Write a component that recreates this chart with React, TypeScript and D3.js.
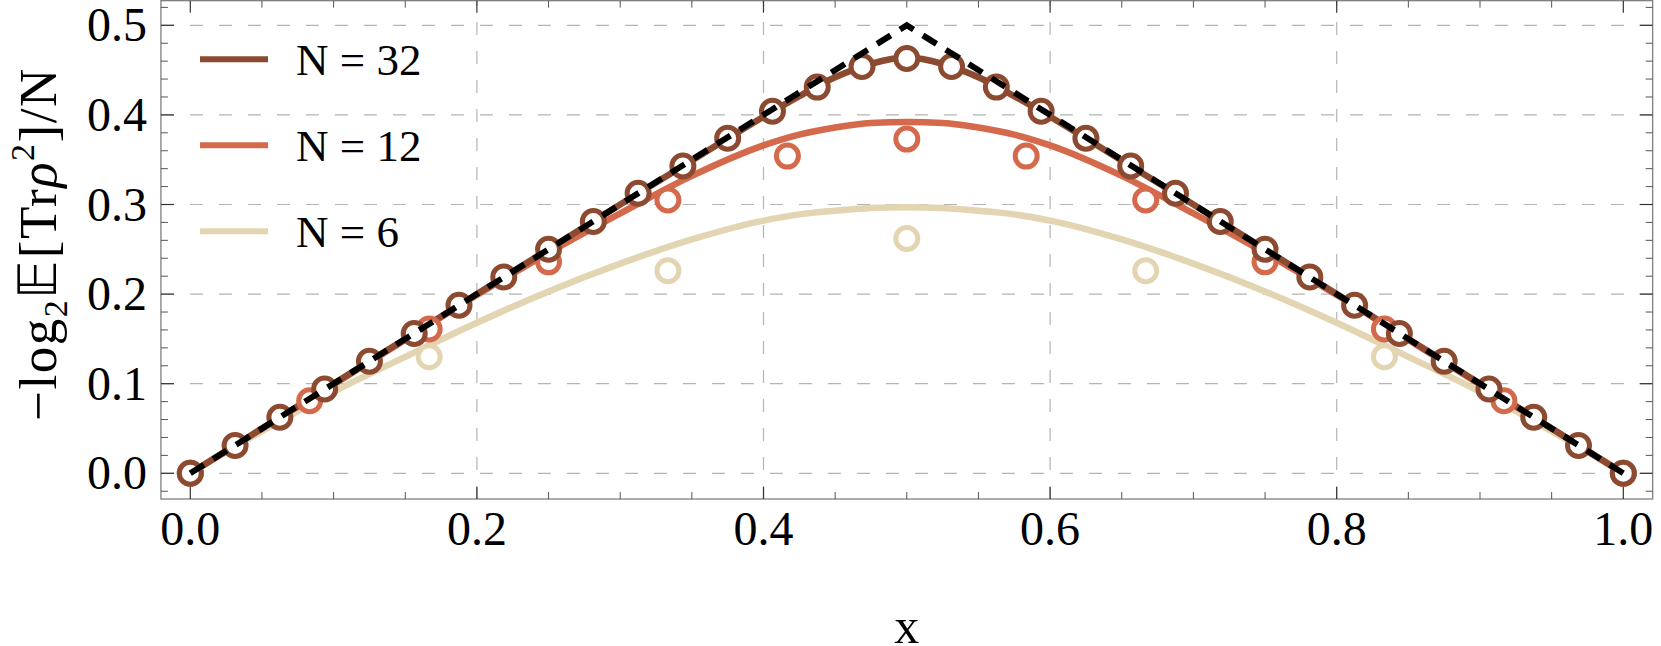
import React from "react";
import * as d3 from "d3";

const W = 1661;
const H = 646;

// ---- data ----
const N32_X = [0, 0.03125, 0.0625, 0.09375, 0.125, 0.15625, 0.1875, 0.21875, 0.25, 0.28125, 0.3125, 0.34375, 0.375, 0.40625, 0.4375, 0.46875, 0.5, 0.53125, 0.5625, 0.59375, 0.625, 0.65625, 0.6875, 0.71875, 0.75, 0.78125, 0.8125, 0.84375, 0.875, 0.90625, 0.9375, 0.96875, 1];
const N32_Y = [0, 0.031, 0.0625, 0.094, 0.125, 0.156, 0.1875, 0.219, 0.25, 0.281, 0.3125, 0.343, 0.374, 0.404, 0.431, 0.454, 0.463, 0.454, 0.431, 0.404, 0.374, 0.343, 0.3125, 0.281, 0.25, 0.219, 0.1875, 0.156, 0.125, 0.094, 0.0625, 0.031, 0];
const N12_X = [0, 0.0833, 0.1667, 0.25, 0.3333, 0.4167, 0.5, 0.5833, 0.6667, 0.75, 0.8333, 0.9167, 1];
const N12_Y = [0, 0.081, 0.161, 0.236, 0.305, 0.354, 0.373, 0.354, 0.305, 0.236, 0.161, 0.081, 0];
const N6_X = [0, 0.1667, 0.3333, 0.5, 0.6667, 0.8333, 1];
const N6_Y = [0, 0.130, 0.226, 0.262, 0.226, 0.130, 0];

const CURVE_X = [0, 0.05, 0.1, 0.15, 0.2, 0.25, 0.3, 0.35, 0.4, 0.425, 0.45, 0.475, 0.5, 0.525, 0.55, 0.575, 0.6, 0.65, 0.7, 0.75, 0.8, 0.85, 0.9, 0.95, 1];
const CURVE32_Y = [0, 0.05, 0.1, 0.15, 0.2, 0.25, 0.3, 0.349, 0.398, 0.421, 0.442, 0.457, 0.464, 0.457, 0.442, 0.421, 0.398, 0.349, 0.3, 0.25, 0.2, 0.15, 0.1, 0.05, 0];
const CURVE12_Y = [0, 0.05, 0.099, 0.149, 0.199, 0.246, 0.29, 0.332, 0.366, 0.378, 0.386, 0.391, 0.392, 0.391, 0.386, 0.378, 0.366, 0.332, 0.29, 0.246, 0.199, 0.149, 0.099, 0.05, 0];
const CURVE6_Y = [0, 0.047, 0.091, 0.13, 0.168, 0.203, 0.234, 0.261, 0.282, 0.289, 0.293, 0.296, 0.297, 0.296, 0.293, 0.289, 0.282, 0.261, 0.234, 0.203, 0.168, 0.13, 0.091, 0.047, 0];

const LIMIT_X = [0, 0.5, 1];
const LIMIT_Y = [0, 0.5, 0];

const X_MAJOR = [0, 0.2, 0.4, 0.6, 0.8, 1.0];
const X_MAJOR_LABELS = ["0.0", "0.2", "0.4", "0.6", "0.8", "1.0"];
const X_MINOR = [0.05, 0.1, 0.15, 0.25, 0.3, 0.35, 0.45, 0.5, 0.55, 0.65, 0.7, 0.75, 0.85, 0.9, 0.95];
const X_GRID = [0.2, 0.4, 0.6, 0.8];
const Y_MAJOR = [0, 0.1, 0.2, 0.3, 0.4, 0.5];
const Y_MAJOR_LABELS = ["0.0", "0.1", "0.2", "0.3", "0.4", "0.5"];
const Y_MINOR = [-0.02, 0.02, 0.04, 0.06, 0.08, 0.12, 0.14, 0.16, 0.18, 0.22, 0.24, 0.26, 0.28, 0.32, 0.34, 0.36, 0.38, 0.42, 0.44, 0.46, 0.48, 0.52];

const SERIES = [
  { label: "N = 32", color: "#8c4a30" },
  { label: "N = 12", color: "#d4694b" },
  { label: "N = 6", color: "#e3d4b2" },
];

const FONT = "'Liberation Serif', 'Times New Roman', serif";

export default function App() {
  const x = d3.scaleLinear().domain([0, 1]).range([190.3, 1623.3]);
  const y = d3.scaleLinear().domain([0, 0.5]).range([473.3, 25.3]);
  const fx0 = x(-0.0205), fx1 = x(1.0205);
  const fy0 = y(-0.0287), fy1 = y(0.5275);

  const line = d3.line<[number, number]>().x(d => x(d[0])).y(d => y(d[1])).curve(d3.curveMonotoneX);
  const straight = d3.line<[number, number]>().x(d => x(d[0])).y(d => y(d[1]));
  const zip = (a: number[], b: number[]) => a.map((v, i) => [v, b[i]] as [number, number]);

  const curves = [CURVE32_Y, CURVE12_Y, CURVE6_Y];
  const points = [
    { xs: N6_X, ys: N6_Y, color: SERIES[2].color },
    { xs: N12_X, ys: N12_Y, color: SERIES[1].color },
    { xs: N32_X, ys: N32_Y, color: SERIES[0].color },
  ];

  const frameColor = "#808080";
  const gridColor = "#b4b4b4";

  return (
    <svg width={W} height={H} style={{ position: "absolute", left: 0, top: 0, background: "#fff" }} fontFamily={FONT}>
      <rect x={0} y={0} width={W} height={H} fill="#fff" />
      {/* grid */}
      {X_GRID.map(v => (
        <line key={"gx" + v} x1={x(v)} x2={x(v)} y1={fy0} y2={fy1} stroke={gridColor} strokeWidth={1.2} strokeDasharray="13,16" />
      ))}
      {Y_MAJOR.map(v => (
        <line key={"gy" + v} x1={fx0} x2={fx1} y1={y(v)} y2={y(v)} stroke={gridColor} strokeWidth={1.2} strokeDasharray="13,16" />
      ))}
      {/* curves */}
      {[2, 1, 0].map(i => (
        <path key={"c" + i} d={line(zip(CURVE_X, curves[i])) || ""} fill="none" stroke={SERIES[i].color} strokeWidth={6.5} />
      ))}
      {/* points */}
      {points.map((p, j) =>
        p.xs.map((xv, k) => (
          <circle key={"p" + j + "_" + k} cx={x(xv)} cy={y(p.ys[k])} r={11} fill="#fff" stroke={p.color} strokeWidth={5} />
        ))
      )}
      {/* limit line */}
      <path d={straight(zip(LIMIT_X, LIMIT_Y)) || ""} fill="none" stroke="#000" strokeWidth={6} strokeDasharray="16,11" />
      {/* frame */}
      <rect x={fx0} y={fy1} width={fx1 - fx0} height={fy0 - fy1} fill="none" stroke={frameColor} strokeWidth={1.3} />
      {/* ticks */}
      {X_MAJOR.map(v => (
        <g key={"xt" + v}>
          <line x1={x(v)} x2={x(v)} y1={fy0} y2={fy0 - 12} stroke="#333" strokeWidth={1.2} />
          <line x1={x(v)} x2={x(v)} y1={fy1} y2={fy1 + 12} stroke="#333" strokeWidth={1.2} />
        </g>
      ))}
      {X_MINOR.map(v => (
        <g key={"xm" + v}>
          <line x1={x(v)} x2={x(v)} y1={fy0} y2={fy0 - 7} stroke="#555" strokeWidth={1} />
          <line x1={x(v)} x2={x(v)} y1={fy1} y2={fy1 + 7} stroke="#555" strokeWidth={1} />
        </g>
      ))}
      {Y_MAJOR.map(v => (
        <g key={"yt" + v}>
          <line x1={fx0} x2={fx0 + 13} y1={y(v)} y2={y(v)} stroke="#333" strokeWidth={1.2} />
          <line x1={fx1} x2={fx1 - 13} y1={y(v)} y2={y(v)} stroke="#333" strokeWidth={1.2} />
        </g>
      ))}
      {Y_MINOR.map(v => (
        <g key={"ym" + v}>
          <line x1={fx0} x2={fx0 + 7} y1={y(v)} y2={y(v)} stroke="#555" strokeWidth={1} />
          <line x1={fx1} x2={fx1 - 7} y1={y(v)} y2={y(v)} stroke="#555" strokeWidth={1} />
        </g>
      ))}
      {/* tick labels */}
      {X_MAJOR.map((v, i) => (
        <text key={"xl" + v} x={x(v)} y={545} textAnchor="middle" fontSize={48} fill="#000">{X_MAJOR_LABELS[i]}</text>
      ))}
      {Y_MAJOR.map((v, i) => (
        <text key={"yl" + v} x={147} y={y(v) + 16} textAnchor="end" fontSize={48} fill="#000">{Y_MAJOR_LABELS[i]}</text>
      ))}
      {/* axis labels */}
      <text x={x(0.5)} y={643} textAnchor="middle" fontSize={50} fill="#000">x</text>
      <text transform={`translate(56, 244) rotate(-90)`} textAnchor="middle" fontSize={53} letterSpacing={1.5} fill="#000">
        <tspan>−log</tspan>
        <tspan fontSize={34} dy={11}>2</tspan>
        <tspan dy={-11}>𝔼[Tr</tspan>
        <tspan fontStyle="italic">ρ</tspan>
        <tspan fontSize={34} dy={-22}>2</tspan>
        <tspan dy={22}>]/N</tspan>
      </text>
      {/* legend */}
      {SERIES.map((s, i) => (
        <g key={"lg" + i}>
          <line x1={200} x2={268} y1={59.3 + i * 86} y2={59.3 + i * 86} stroke={s.color} strokeWidth={6} />
          <text x={296} y={75 + i * 86} fontSize={45} fill="#000">{s.label}</text>
        </g>
      ))}
    </svg>
  );
}
